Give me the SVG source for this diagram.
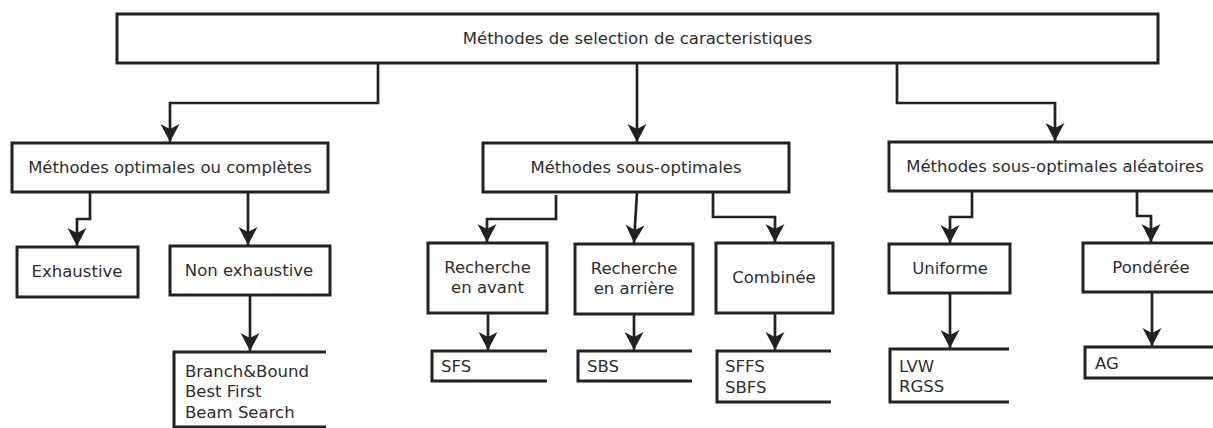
<svg xmlns="http://www.w3.org/2000/svg" width="1213" height="428" viewBox="0 0 1213 428">
<style>
.box{fill:#fff;stroke:#222;stroke-width:3}
.br{fill:none;stroke:#222;stroke-width:3}
.c{fill:none;stroke:#222;stroke-width:2.7}
text{font-family:"DejaVu Sans",sans-serif;font-size:16.5px;fill:#2e2e2e}
.m{text-anchor:middle}
</style>
<defs>
<marker id="ah" markerUnits="userSpaceOnUse" markerWidth="22" markerHeight="22" viewBox="-20 -11 22 22" refX="0" refY="0" orient="auto">
<path d="M0,0 L-18,-9.5 L-13,0 L-18,9.5 Z" fill="#222"/>
</marker>
</defs>
<rect width="1213" height="428" fill="#fff"/>
<g id="connectors">
<path class="c" marker-end="url(#ah)" d="M378,63 V103 H170 V142"/>
<path class="c" marker-end="url(#ah)" d="M637,63 V142"/>
<path class="c" marker-end="url(#ah)" d="M897,63 V103 H1055 V141"/>
<path class="c" marker-end="url(#ah)" d="M90,192 V219 H77 V246"/>
<path class="c" marker-end="url(#ah)" d="M248,192 V245"/>
<path class="c" marker-end="url(#ah)" d="M250,295 V351"/>
<path class="c" marker-end="url(#ah)" d="M556,195 V219 H487 V242"/>
<path class="c" marker-end="url(#ah)" d="M637,192 L634,243"/>
<path class="c" marker-end="url(#ah)" d="M713,192 V217 H775 V242"/>
<path class="c" marker-end="url(#ah)" d="M488,313 V350"/>
<path class="c" marker-end="url(#ah)" d="M634,314 V350"/>
<path class="c" marker-end="url(#ah)" d="M775,313 V350"/>
<path class="c" marker-end="url(#ah)" d="M972,191 V217 H950 V243"/>
<path class="c" marker-end="url(#ah)" d="M1137,191 V216 H1151 V242"/>
<path class="c" marker-end="url(#ah)" d="M950,293 V348"/>
<path class="c" marker-end="url(#ah)" d="M1152,292 V346"/>
</g>
<g id="root"><rect class="box" x="117" y="14" width="1041" height="49"/><text class="m" x="637.5" y="44">Méthodes de selection de caracteristiques</text></g>
<g id="optimales"><rect class="box" x="12" y="143" width="316" height="49"/><text class="m" x="170" y="173">Méthodes optimales ou complètes</text></g>
<g id="sousoptimales"><rect class="box" x="483" y="143" width="306" height="49"/><text class="m" x="636" y="173">Méthodes sous-optimales</text></g>
<g id="aleatoires"><rect class="box" x="889" y="142" width="340" height="49"/><text class="m" x="1055" y="172">Méthodes sous-optimales aléatoires</text></g>
<g id="exhaustive"><rect class="box" x="17" y="247" width="121" height="50"/><text class="m" x="77" y="277">Exhaustive</text></g>
<g id="nonexhaustive"><rect class="box" x="170" y="246" width="160" height="49"/><text class="m" x="249" y="276">Non exhaustive</text></g>
<g id="avant"><rect class="box" x="428" y="243" width="119" height="70"/><text class="m" x="487.5" y="273">Recherche</text><text class="m" x="487.5" y="293">en avant</text></g>
<g id="arriere"><rect class="box" x="575" y="244" width="118" height="70"/><text class="m" x="634" y="274">Recherche</text><text class="m" x="634" y="294">en arrière</text></g>
<g id="combinee"><rect class="box" x="716" y="243" width="117" height="70"/><text class="m" x="774" y="283">Combinée</text></g>
<g id="uniforme"><rect class="box" x="889" y="244" width="121" height="49"/><text class="m" x="950" y="274">Uniforme</text></g>
<g id="ponderee"><rect class="box" x="1083" y="243" width="140" height="49"/><text class="m" x="1151" y="273">Pondérée</text></g>
<g id="bbb"><path class="br" d="M326,352 H174 V427 H326"/><text x="185" y="377">Branch&amp;Bound</text><text x="185" y="397">Best First</text><text x="185" y="418">Beam Search</text></g>
<g id="sfs"><path class="br" d="M547,351 H432 V381 H547"/><text x="441" y="372">SFS</text></g>
<g id="sbs"><path class="br" d="M692,351 H578 V381 H692"/><text x="587" y="372">SBS</text></g>
<g id="sffs"><path class="br" d="M831,351 H717 V402 H831"/><text x="725" y="372">SFFS</text><text x="725" y="393">SBFS</text></g>
<g id="lvw"><path class="br" d="M1009,349 H890 V402 H1009"/><text x="899" y="372">LVW</text><text x="899" y="392">RGSS</text></g>
<g id="ag"><path class="br" d="M1225,347 H1085 V378 H1225"/><text x="1095" y="369">AG</text></g>
</svg>
